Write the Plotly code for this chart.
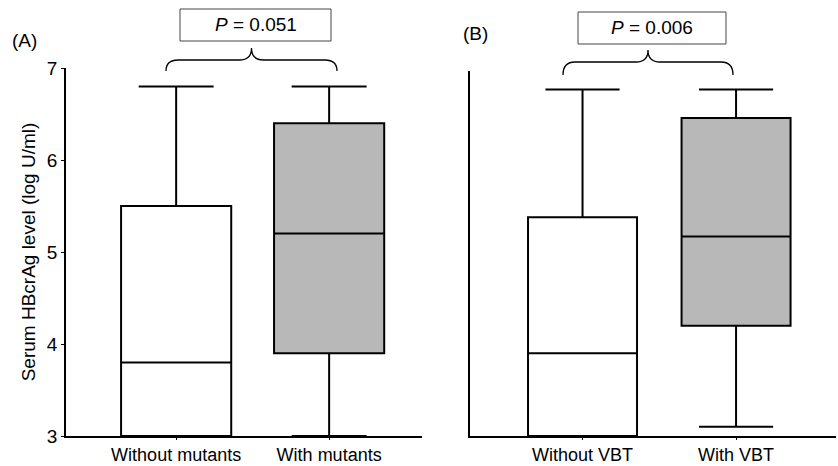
import plotly.graph_objects as go

# ---- data ----
cats_a = ["Without mutants", "With mutants"]
q1_a = [3.0, 3.9]
med_a = [3.8, 5.2]
q3_a = [5.5, 6.4]
lo_a = [3.0, 3.0]
hi_a = [6.8, 6.8]

cats_b = ["Without VBT", "With VBT"]
q1_b = [3.0, 4.2]
med_b = [3.9, 5.17]
q3_b = [5.38, 6.46]
lo_b = [3.0, 3.1]
hi_b = [6.77, 6.77]

fills = ["white", "#b8b8b8"]
p_texts = ["<i>P</i> = 0.051", "<i>P</i> = 0.006"]
y_ticks = [3, 4, 5, 6, 7]

W, H = 838, 466
L, R, T, B = 66, 2, 68, 30
PW, PH = W - L - R, H - T - B

def px(x):
    return (x - L) / PW

def py(y):
    return (H - B - y) / PH

FONT = "Liberation Sans, Arial, sans-serif"
FS = 19

fig = go.Figure()
for i in range(2):
    fig.add_trace(go.Box(
        x=[cats_a[i]], q1=[q1_a[i]], median=[med_a[i]], q3=[q3_a[i]],
        lowerfence=[lo_a[i]], upperfence=[hi_a[i]],
        fillcolor=fills[i], line=dict(color="black", width=2),
        width=0.72, whiskerwidth=0.68, boxpoints=False,
        xaxis="x", yaxis="y", showlegend=False, hoverinfo="skip"))
    fig.add_trace(go.Box(
        x=[cats_b[i]], q1=[q1_b[i]], median=[med_b[i]], q3=[q3_b[i]],
        lowerfence=[lo_b[i]], upperfence=[hi_b[i]],
        fillcolor=fills[i], line=dict(color="black", width=2),
        width=0.71, whiskerwidth=0.68, boxpoints=False,
        xaxis="x2", yaxis="y2", showlegend=False, hoverinfo="skip"))

axis_common = dict(showline=True, linecolor="black", linewidth=1.5,
                   showgrid=False, zeroline=False, ticks="outside",
                   tickcolor="black", automargin=False)
xfont = dict(size=18, color="black", family=FONT)
yfont = dict(size=FS, color="black", family=FONT)

fig.update_layout(
    width=W, height=H,
    margin=dict(l=L, r=R, t=T, b=B),
    paper_bgcolor="white", plot_bgcolor="white",
    font=dict(family=FONT, color="black", size=FS),
    xaxis=dict(domain=[0, px(422)], type="category",
               categoryorder="array", categoryarray=cats_a,
               range=[-0.72, 1.607], anchor="y", ticklen=2,
               tickfont=xfont, **axis_common),
    xaxis2=dict(domain=[px(470), 1], type="category",
                categoryorder="array", categoryarray=cats_b,
                range=[-0.733, 1.651], anchor="y2", ticklen=2,
                tickfont=xfont, **axis_common),
    yaxis=dict(domain=[0, 1], range=[3, 7], tickvals=y_ticks,
               anchor="x", ticklen=3, tickfont=yfont,
               title=dict(text="Serum HBcrAg level (log U/ml)",
                          font=dict(size=FS), standoff=6),
               **axis_common),
    yaxis2=dict(domain=[0, py(71)], range=[3, 6.97], tickvals=y_ticks,
                showticklabels=False, anchor="x2", automargin=False,
                showline=True, linecolor="black", linewidth=1.5,
                showgrid=False, zeroline=False, ticks=""),
)

# panel labels
fig.add_annotation(text="(A)", x=px(10), y=py(40), xref="paper", yref="paper",
                   xanchor="left", yanchor="middle", showarrow=False,
                   font=dict(size=FS))
fig.add_annotation(text="(B)", x=px(461), y=py(34), xref="paper", yref="paper",
                   xanchor="left", yanchor="middle", showarrow=False,
                   font=dict(size=FS))

def brace(x0, x1, y_end, y_flat, y_tip):
    xm = (x0 + x1) / 2
    r = 12
    pts = [
        f"M {px(x0)},{py(y_end)}",
        f"Q {px(x0)},{py(y_flat)} {px(x0 + r)},{py(y_flat)}",
        f"L {px(xm - r)},{py(y_flat)}",
        f"Q {px(xm)},{py(y_flat)} {px(xm)},{py(y_tip)}",
        f"Q {px(xm)},{py(y_flat)} {px(xm + r)},{py(y_flat)}",
        f"L {px(x1 - r)},{py(y_flat)}",
        f"Q {px(x1)},{py(y_flat)} {px(x1)},{py(y_end)}",
    ]
    fig.add_shape(type="path", path=" ".join(pts), xref="paper", yref="paper",
                  line=dict(color="black", width=1.3))

brace(166, 337, 71, 60, 48)
brace(563, 733, 75, 62, 50)

for (bx0, bx1, by0, by1), t in zip([(180, 331, 9, 41), (578, 726, 12, 44)], p_texts):
    fig.add_shape(type="rect", x0=px(bx0), x1=px(bx1), y0=py(by1), y1=py(by0),
                  xref="paper", yref="paper",
                  line=dict(color="#444", width=1), fillcolor="white")
    fig.add_annotation(text=t, x=px((bx0 + bx1) / 2), y=py((by0 + by1) / 2),
                       xref="paper", yref="paper", showarrow=False,
                       xanchor="center", yanchor="middle", font=dict(size=FS))

fig.write_html("out.html")
